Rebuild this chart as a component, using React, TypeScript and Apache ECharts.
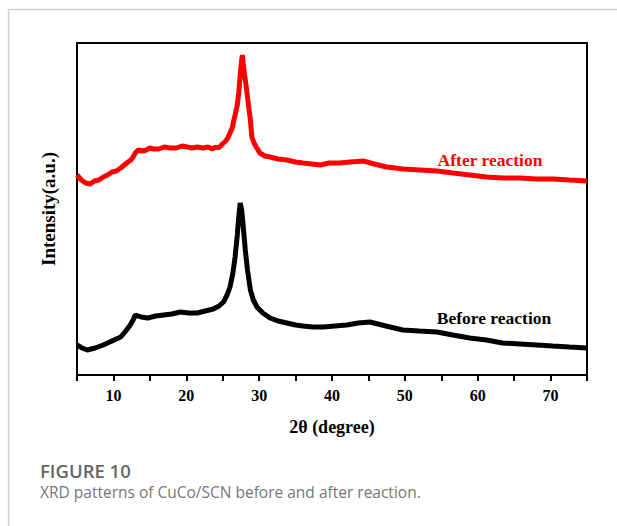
import React, { useEffect, useRef } from "react";
import * as echarts from "echarts";

// 2θ positions and intensities (arbitrary units)
const afterX = [5.0, 5.6, 6.2, 6.8, 7.4, 8.0, 8.6, 9.2, 9.8, 10.4, 11.0, 11.5, 12.0, 12.4, 12.7, 13.0, 13.4, 14.0, 14.5, 15.0, 15.5, 16.2, 17.0, 17.8, 18.6, 19.4, 20.1, 20.8, 21.5, 22.3, 23.0, 23.6, 24.0, 24.4, 24.7, 25.1, 25.4, 25.7, 26.0, 26.3, 26.5, 26.7, 27.0, 27.2, 27.4, 27.6, 27.7, 27.8, 28.0, 28.2, 28.4, 28.6, 28.8, 29.0, 29.3, 29.6, 30.1, 30.8, 31.5, 32.6, 33.8, 35.0, 36.0, 37.2, 38.4, 39.6, 41.0, 42.5, 44.3, 45.8, 47.5, 49.8, 52.1, 54.4, 56.6, 58.9, 61.2, 63.5, 65.8, 68.0, 70.3, 72.6, 75.0];
const afterY = [200, 195, 192, 191, 194, 195, 198, 200, 203, 204, 207, 210, 213, 215, 218, 222, 225, 224, 225, 227, 226, 226, 228, 227, 227, 229, 228, 227, 228, 227, 228, 226, 228, 227, 229, 232, 234, 237, 242, 247, 254, 260, 270, 282, 300, 315, 320, 312, 300, 290, 278, 266, 255, 238, 232, 228, 222, 219, 218, 216, 215, 213, 212, 211, 210, 212, 212, 213, 214, 211, 208, 206, 205, 204, 202, 200, 198, 197, 197, 196, 196, 195, 194];

const beforeX = [5.0, 5.7, 6.4, 7.5, 8.6, 9.8, 11.0, 11.7, 12.3, 12.7, 13.0, 13.8, 14.7, 15.8, 16.9, 18.0, 19.2, 20.3, 21.5, 22.6, 23.7, 24.5, 25.1, 25.6, 26.0, 26.4, 26.7, 27.0, 27.2, 27.4, 27.6, 27.8, 28.1, 28.4, 28.8, 29.2, 29.7, 30.5, 31.5, 32.6, 33.8, 35.0, 36.0, 37.4, 38.8, 40.4, 42.0, 43.6, 45.2, 47.4, 49.7, 52.0, 54.4, 56.6, 58.9, 61.2, 63.4, 65.8, 68.1, 70.3, 72.6, 75.0];
const beforeY = [30, 27, 25, 27, 30, 34, 38, 44, 50, 55, 60, 58, 57, 59, 60, 61, 63, 62, 62, 64, 66, 69, 73, 80, 88, 102, 118, 140, 158, 172, 165, 150, 125, 105, 85, 75, 68, 62, 57, 54, 52, 50, 49, 48, 48, 49, 50, 52, 53, 49, 45, 44, 43, 40, 37, 35, 32, 31, 30, 29, 28, 27, 25];

const xTicks = [10, 20, 30, 40, 50, 60, 70];
const seriesNames = ["After reaction", "Before reaction"];
const captionTitle = "FIGURE 10";
const captionText = "XRD patterns of CuCo/SCN before and after reaction.";

const serif = "'Liberation Serif', 'Times New Roman', serif";

export default function App() {
  const ref = useRef<HTMLDivElement>(null);
  useEffect(() => {
    if (!ref.current) return;
    const chart = echarts.init(ref.current, null, { renderer: "svg" });
    const after = afterX.map((x, i) => [x, afterY[i]]);
    const before = beforeX.map((x, i) => [x, beforeY[i]]);
    chart.setOption({
      animation: false,
      backgroundColor: "#ffffff",
      grid: {
        left: 77,
        right: 30,
        top: 43,
        height: 332,
        show: true,
        borderColor: "#000",
        borderWidth: 2,
        containLabel: false,
      },
      xAxis: {
        type: "value",
        min: 5,
        max: 75,
        interval: 5,
        name: "2θ (degree)",
        nameLocation: "middle",
        nameGap: 43,
        nameTextStyle: { fontFamily: serif, fontWeight: "bold", fontSize: 18, color: "#000" },
        axisLine: { show: true, onZero: false, lineStyle: { color: "#000", width: 2 } },
        axisTick: {
          show: true,
          inside: false,
          length: 6,
          lineStyle: { color: "#000", width: 2 },
        },
        axisLabel: {
          margin: 12,
          fontFamily: serif,
          fontWeight: "bold",
          fontSize: 16,
          color: "#000",
          formatter: (v: number) => (xTicks.includes(v) ? String(v) : ""),
        },
        splitLine: { show: false },
      },
      yAxis: {
        type: "value",
        min: 0,
        max: 332,
        name: "Intensity(a.u.)",
        nameLocation: "middle",
        nameGap: 19,
        nameTextStyle: { fontFamily: serif, fontWeight: "bold", fontSize: 19, color: "#000" },
        axisLine: { show: true, lineStyle: { color: "#000", width: 2 } },
        axisTick: { show: false },
        axisLabel: { show: false },
        splitLine: { show: false },
      },
      series: [
        {
          name: seriesNames[0],
          type: "line",
          data: after,
          showSymbol: false,
          symbol: "none",
          lineStyle: { color: "#ff0000", width: 5 },
          z: 3,
        },
        {
          name: seriesNames[1],
          type: "line",
          data: before,
          showSymbol: false,
          symbol: "none",
          lineStyle: { color: "#000000", width: 5 },
          z: 3,
        },
      ],
      graphic: [
        { type: "line", shape: { x1: 9, y1: 9.5, x2: 617, y2: 9.5 }, style: { stroke: "#cfcfcf", lineWidth: 1.5 } },
        { type: "line", shape: { x1: 8.5, y1: 9, x2: 8.5, y2: 526 }, style: { stroke: "#cfcfcf", lineWidth: 1.5 } },
        {
          type: "text",
          x: 490,
          y: 160,
          style: {
            text: seriesNames[0],
            fill: "#ff0000",
            font: `bold 17.5px ${serif}`,
            textAlign: "center",
            textVerticalAlign: "middle",
          },
        },
        {
          type: "text",
          x: 494,
          y: 318,
          style: {
            text: seriesNames[1],
            fill: "#000",
            font: `bold 17.5px ${serif}`,
            textAlign: "center",
            textVerticalAlign: "middle",
          },
        },
        {
          type: "text",
          x: 40,
          y: 470,
          style: {
            text: captionTitle,
            fill: "#666",
            font: `600 18.5px 'Open Sans', sans-serif`,
            textAlign: "left",
            textVerticalAlign: "middle",
          },
        },
        {
          type: "text",
          x: 40,
          y: 492,
          style: {
            text: captionText,
            fill: "#777",
            font: `15.5px 'Open Sans', sans-serif`,
            textAlign: "left",
            textVerticalAlign: "middle",
          },
        },
      ],
    });
    return () => chart.dispose();
  }, []);
  return (
    <div
      ref={ref}
      style={{ position: "fixed", left: 0, top: 0, width: 617, height: 526 }}
    />
  );
}
